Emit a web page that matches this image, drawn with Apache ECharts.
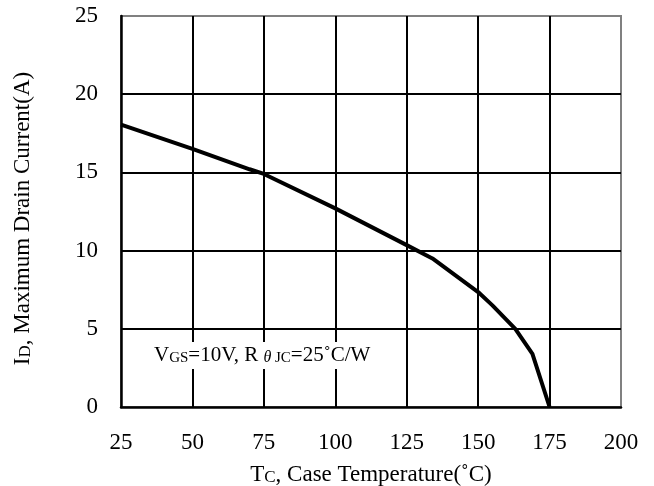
<!DOCTYPE html>
<html>
<head>
<meta charset="utf-8">
<script src="https://cdn.jsdelivr.net/npm/echarts@6/dist/echarts.min.js"></script>
<style>
html,body{margin:0;padding:0;background:#fff;}
#c{width:654px;height:486px;}
</style>
</head>
<body>
<div id="c"></div>
<script>
// Data
const temperature = [25, 50, 70, 75, 100, 125, 134, 150, 155, 163, 169, 175];
const drainCurrent = [18.05, 16.5, 15.2, 14.9, 12.7, 10.35, 9.5, 7.35, 6.5, 5.0, 3.4, 0];
const xTicks = [25, 50, 75, 100, 125, 150, 175, 200];
const yTicks = [0, 5, 10, 15, 20, 25];

const FONT = '"Liberation Serif", "DejaVu Serif", serif';
const chart = echarts.init(document.getElementById('c'), null, {renderer: 'canvas'});

const big = {fontFamily: FONT, fontSize: 23, color: '#000', verticalAlign: 'bottom'};
const small = {fontFamily: FONT, fontSize: 17, color: '#000', verticalAlign: 'bottom'};
const noteBig = {fontFamily: FONT, fontSize: 21, color: '#000', verticalAlign: 'bottom'};
const noteSmall = {fontFamily: FONT, fontSize: 15, color: '#000', verticalAlign: 'bottom'};

chart.setOption({
  backgroundColor: '#fff',
  animation: false,
  grid: {left: 121, right: 33, top: 16, bottom: 79, show: true, borderColor: '#808080', borderWidth: 2,
         backgroundColor: 'transparent', containLabel: false, outerBoundsMode: 'none'},
  xAxis: {
    type: 'value',
    min: xTicks[0], max: xTicks[xTicks.length - 1], interval: xTicks[1] - xTicks[0],
    name: '{a|T}{b|C}{a|, Case Temperature(˚C)}',
    nameLocation: 'middle', nameGap: 56,
    nameTextStyle: {rich: {a: big, b: small}},
    axisLine: {show: true, lineStyle: {color: '#000', width: 2.5}},
    axisTick: {show: false},
    axisLabel: {fontFamily: FONT, fontSize: 23, color: '#000', margin: 24},
    splitLine: {show: true, showMinLine: false, showMaxLine: false, lineStyle: {color: '#000', width: 2}}
  },
  yAxis: {
    type: 'value',
    min: yTicks[0], max: yTicks[yTicks.length - 1], interval: yTicks[1] - yTicks[0],
    name: '{a|I}{b|D}{a|, Maximum Drain Current(A)}',
    nameLocation: 'middle', nameGap: 87,
    nameTextStyle: {padding: [0, 14, 0, 0], rich: {a: big, b: small}},
    axisLine: {show: true, lineStyle: {color: '#000', width: 2.5}},
    axisTick: {show: false},
    axisLabel: {fontFamily: FONT, fontSize: 23, color: '#000', margin: 23},
    splitLine: {show: true, showMinLine: false, showMaxLine: false, lineStyle: {color: '#000', width: 2}}
  },
  series: [{
    type: 'line',
    data: temperature.map((t, i) => [t, drainCurrent[i]]),
    showSymbol: false,
    smooth: false,
    lineStyle: {color: '#000', width: 4},
    z: 5
  }],
  graphic: [{
    type: 'text',
    left: 151,
    top: 342,
    z: 100,
    style: {
      text: '{a|V}{b|GS}{a|=10V, R }{t|θ}{b| JC}{a|=25˚C/W}',
      backgroundColor: '#fff',
      padding: [3, 3, 3, 3],
      rich: {
        a: noteBig,
        b: noteSmall,
        t: {fontFamily: FONT, fontSize: 16, fontStyle: 'italic', color: '#000', verticalAlign: 'bottom'}
      }
    }
  }]
});
</script>
</body>
</html>
